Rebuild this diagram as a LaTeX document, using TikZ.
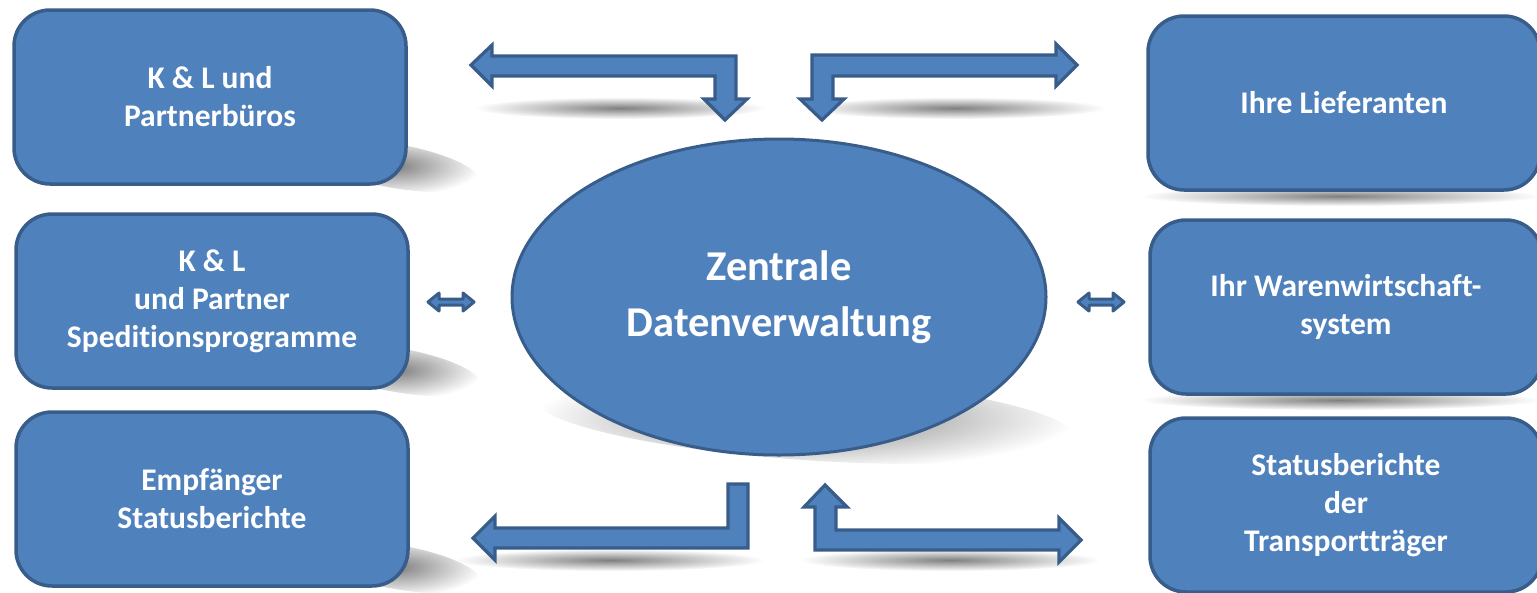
\documentclass[tikz,border=0pt]{standalone}
\usepackage{fontspec}
\setmainfont{Carlito}[Ligatures=NoCommon]
\usetikzlibrary{shapes.geometric,fadings}
\definecolor{boxfill}{HTML}{4F81BD}
\definecolor{boxline}{HTML}{385D8A}
\tikzfading[name=softfade, inner color=transparent!0, outer color=transparent!100]
\tikzset{
  boxnode/.style={draw=boxline, fill=boxfill, line width=3.5pt, rounded corners=36pt,
    minimum width=392pt, minimum height=174pt, text=white, align=center,
    font=\bfseries\fontsize{31.5}{38}\selectfont, inner sep=0pt},
  centernode/.style={ellipse, draw=boxline, fill=boxfill, line width=3pt,
    minimum width=534pt, minimum height=316pt, text=white, align=center,
    font=\bfseries\fontsize{42.5}{56}\selectfont, inner sep=0pt},
  bigarrow/.style={draw=boxline, fill=boxfill, line width=3.2pt, line join=miter},
  smallarrow/.style={draw=boxline, fill=boxfill, line width=3pt, line join=round},
  softshadow/.style={fill=black!50, path fading=softfade},
}
\begin{document}
\begin{tikzpicture}[x=1pt,y=-1pt]
\useasboundingbox (0,0) rectangle (1537,592);
\clip (0,0) rectangle (1537,592);
% shadows
\fill[softshadow, rotate around={-10:(395,166)}] (395,166) ellipse [x radius=85, y radius=22];
\fill[softshadow, rotate around={-10:(397,370)}] (397,370) ellipse [x radius=85, y radius=22];
\fill[softshadow, rotate around={-10:(397,567)}] (397,567) ellipse [x radius=85, y radius=22];
\fill[softshadow] (1340,196) ellipse [x radius=200, y radius=10];
\fill[softshadow] (1340,400) ellipse [x radius=200, y radius=10];
\fill[softshadow, rotate around={-4:(805,418)}] (805,418) ellipse [x radius=270, y radius=42];
\fill[softshadow] (620,108) ellipse [x radius=145, y radius=11];
\fill[softshadow] (955,108) ellipse [x radius=150, y radius=11];
\fill[softshadow] (610,560) ellipse [x radius=155, y radius=11];
\fill[softshadow] (950,560) ellipse [x radius=150, y radius=11];
% boxes
\node[boxnode] (kl) at (210,97) {K \& L und\\Partnerbüros};
\node[boxnode] (klsp) at (212,301) {K \& L\\und Partner\\Speditionsprogramme};
\node[boxnode] (emp) at (212,499) {Empfänger\\Statusberichte};
\node[boxnode] (lief) at (1344,103) {Ihre Lieferanten};
\node[boxnode] (waren) at (1346,307) {Ihr Warenwirtschaft-\\system};
\node[boxnode] (trans) at (1346,505) {Statusberichte\\der\\Transportträger};
\node[centernode] (zd) at (779,297) {\raisebox{-5pt}{\begin{tabular}{@{}c@{}}Zentrale\\Datenverwaltung\end{tabular}}};
% bent arrows
\draw[bigarrow] (471,65) -- (492,45) -- (492,56) -- (736,56) -- (736,99) -- (747,99)
  -- (725,120) -- (704,99) -- (715,99) -- (715,76) -- (492,76) -- (492,86) -- cycle;
\draw[bigarrow] (812,55) -- (1056,55) -- (1056,44) -- (1077,65) -- (1056,86) -- (1056,76)
  -- (833,76) -- (833,99) -- (844,99) -- (822,120) -- (800,99) -- (812,99) -- cycle;
\draw[bigarrow] (748,484) -- (748,548) -- (495,548) -- (495,560) -- (473,538) -- (495,516)
  -- (495,528) -- (728,528) -- (728,484) -- cycle;
\draw[bigarrow] (825,485) -- (847,507) -- (836,507) -- (836,530) -- (1059,530) -- (1059,518)
  -- (1081,540) -- (1059,562) -- (1059,550) -- (815,550) -- (815,507) -- (804,507) -- cycle;
% small double arrows
\draw[smallarrow] (428,302) -- (439,293) -- (439,299) -- (463,299) -- (463,293) -- (474,302)
  -- (463,311) -- (463,305) -- (439,305) -- (439,311) -- cycle;
\draw[smallarrow] (1078,302) -- (1089,293) -- (1089,299) -- (1113,299) -- (1113,293) -- (1124,302)
  -- (1113,311) -- (1113,305) -- (1089,305) -- (1089,311) -- cycle;
\end{tikzpicture}
\end{document}
